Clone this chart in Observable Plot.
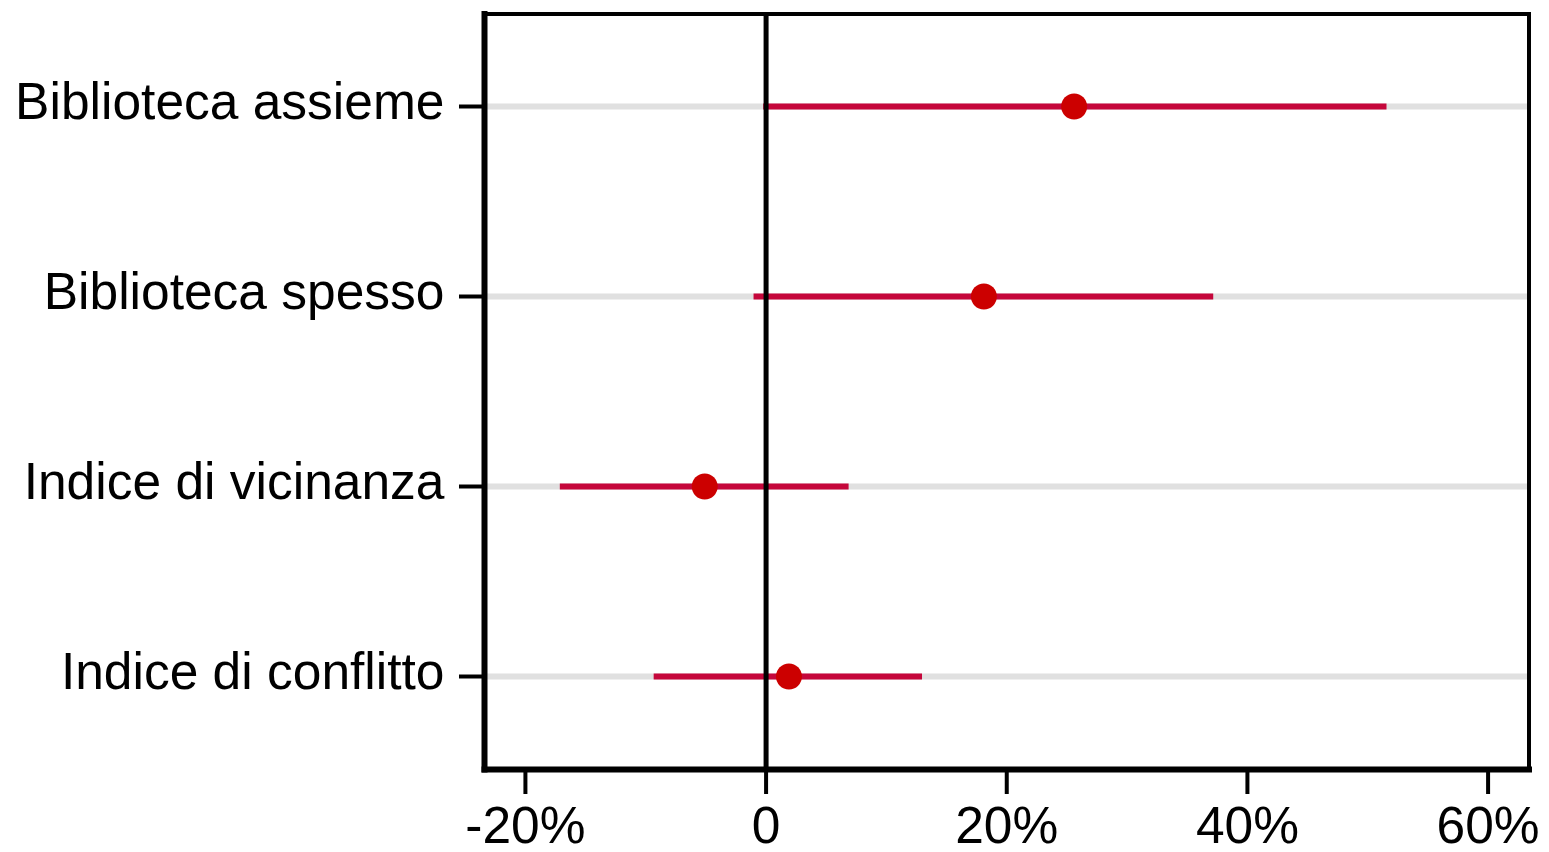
<!DOCTYPE html>
<html>
<head>
<meta charset="utf-8">
<script src="https://cdn.jsdelivr.net/npm/d3@7"></script>
<script src="https://cdn.jsdelivr.net/npm/@observablehq/plot@0.6"></script>
<style>
  html, body { margin: 0; padding: 0; background: #fff; }
  #chart svg { display: block; }
</style>
</head>
<body>
<div id="chart"></div>
<script>
const categories = ["Biblioteca assieme", "Biblioteca spesso", "Indice di vicinanza", "Indice di conflitto"];
const estimates = [25.6, 18.1, -5.1, 1.9];
const lower = [-0.2, -1.0, -17.1, -9.3];
const upper = [51.6, 37.2, 6.9, 13.0];
const xTicks = [-20, 0, 20, 40, 60];
const xDomain = [-23.4, 63.4];

const rows = categories.map((c, i) => ({cat: c, est: estimates[i], lo: lower[i], hi: upper[i]}));

const fontFamily = "'Liberation Sans', Arial, Helvetica, sans-serif";

const chart = Plot.plot({
  width: 1549,
  height: 852,
  marginLeft: 484,
  marginRight: 20.5,
  marginTop: 13.5,
  marginBottom: 83,
  style: {fontFamily, fontSize: "51.5px", color: "black", background: "white"},
  x: {domain: xDomain},
  y: {type: "point", domain: categories, padding: 0.487},
  marks: [
    Plot.ruleY(categories, {y: d => d, stroke: "#e0e0e0", strokeWidth: 6}),
    Plot.ruleY(rows, {y: "cat", x1: "lo", x2: "hi", stroke: "#c5073b", strokeWidth: 6}),
    Plot.ruleX([0], {stroke: "black", strokeWidth: 5}),
    Plot.dot(rows, {x: "est", y: "cat", r: 13, fill: "#cc0000", stroke: "none"}),
    Plot.frame({stroke: "black", strokeWidth: 4}),
    Plot.frame({anchor: "left", stroke: "black", strokeWidth: 6}),
    Plot.frame({anchor: "bottom", stroke: "black", strokeWidth: 6}),
    Plot.axisY({tickSize: 25, strokeWidth: 4, color: "black", tickFormat: () => "", label: null}),
    Plot.axisY({tickSize: 0, tickPadding: 40, color: "black", fontSize: 51.5, dy: -4, label: null}),
    Plot.axisX({ticks: xTicks, tickSize: 25, tickPadding: 12, strokeWidth: 4, color: "black", fontSize: 51.5,
      tickFormat: d => d === 0 ? "0" : d + "%", label: null})
  ]
});
document.getElementById("chart").append(chart);
</script>
</body>
</html>
